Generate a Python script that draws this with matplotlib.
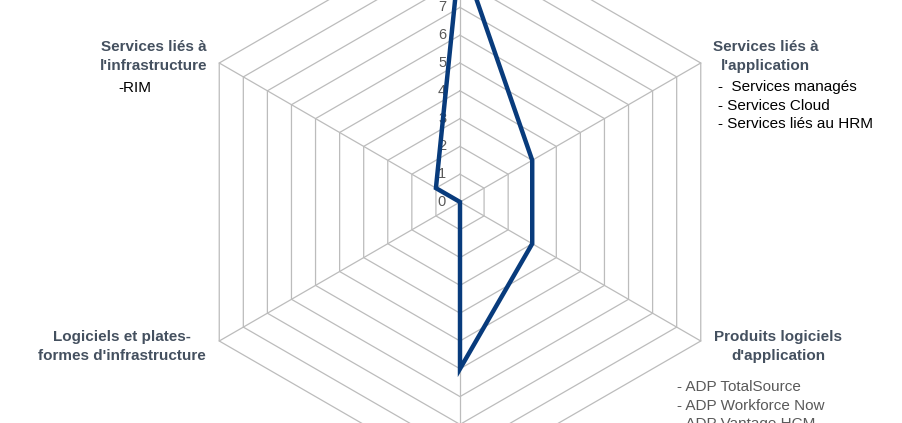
import numpy as np
import matplotlib.pyplot as plt

plt.rcParams['font.family'] = ['Liberation Sans', 'DejaVu Sans']

# axes: top, upper right, lower right, bottom, lower left, upper left
valeurs = [9, 3, 3, 6, 0, 1]
rmax = 10
graduations = list(range(0, 11))

angles = np.deg2rad([90, 30, -30, -90, -150, 150])

titre_couleur = '#44505f'
grille_couleur = '#bcbcbc'
ligne_couleur = '#083b7c'

fig = plt.figure(figsize=(9.03, 4.23), dpi=100)
ax = fig.add_axes([0, 0, 1, 1])
ax.set_aspect('equal')
ax.axis('off')

u = 27.8  # px par unite
ax.set_xlim(-460 / u, 443 / u)
ax.set_ylim(-(423 - 202) / u, 202 / u)

# anneaux hexagonaux
ca = np.cos(np.append(angles, angles[0]))
sa = np.sin(np.append(angles, angles[0]))
for r in graduations[1:]:
    ax.plot(r * ca, r * sa, color=grille_couleur, lw=0.9, zorder=1)
for a in angles:
    ax.plot([0, rmax * np.cos(a)], [0, rmax * np.sin(a)], color=grille_couleur, lw=0.9, zorder=1)

# serie
v = np.array(valeurs + [valeurs[0]], dtype=float)
ax.plot(v * ca, v * sa, color=ligne_couleur, lw=3.2, solid_joinstyle='miter', zorder=3)

# graduations (seules celles dans le cadre)
ytop = ax.get_ylim()[1]
for g in graduations:
    if g < ytop - 0.2:
        ax.text(-0.5, g, str(g), ha='right', va='center', fontsize=10.5, color='#595959', zorder=2)

def px(x, y):
    return (x - 460) / u, (202 - y) / u

fs = 11
# etiquettes
x, y = px(207, 47)
ax.text(x, y, "Services liés à", ha='right', va='center', fontsize=fs, fontweight='bold', color=titre_couleur)
x, y = px(207, 66)
ax.text(x, y, "l'infrastructure", ha='right', va='center', fontsize=fs, fontweight='bold', color=titre_couleur)
x, y = px(118, 88)
ax.text(x, y, "-RIM", ha='left', va='center', fontsize=fs, color='black')

x, y = px(713, 47)
ax.text(x, y, "Services liés à", ha='left', va='center', fontsize=fs, fontweight='bold', color=titre_couleur)
x, y = px(721, 66)
ax.text(x, y, "l'application", ha='left', va='center', fontsize=fs, fontweight='bold', color=titre_couleur)
for i, t in enumerate(["-  Services managés", "- Services Cloud", "- Services liés au HRM"]):
    x, y = px(718, 87 + i * 18.5)
    ax.text(x, y, t, ha='left', va='center', fontsize=fs, color='black')

x, y = px(121.5, 337)
ax.text(x, y, "Logiciels et plates-", ha='center', va='center', fontsize=fs, fontweight='bold', color=titre_couleur)
x, y = px(121.5, 356)
ax.text(x, y, "formes d'infrastructure", ha='center', va='center', fontsize=fs, fontweight='bold', color=titre_couleur)

x, y = px(778, 337)
ax.text(x, y, "Produits logiciels", ha='center', va='center', fontsize=fs, fontweight='bold', color=titre_couleur)
x, y = px(778, 356)
ax.text(x, y, "d'application", ha='center', va='center', fontsize=fs, fontweight='bold', color=titre_couleur)
for i, t in enumerate(["- ADP TotalSource", "- ADP Workforce Now", "- ADP Vantage HCM"]):
    x, y = px(677, 387 + i * 18.5)
    ax.text(x, y, t, ha='left', va='center', fontsize=fs, color='#595959')

fig.savefig('out.png', dpi=100)
